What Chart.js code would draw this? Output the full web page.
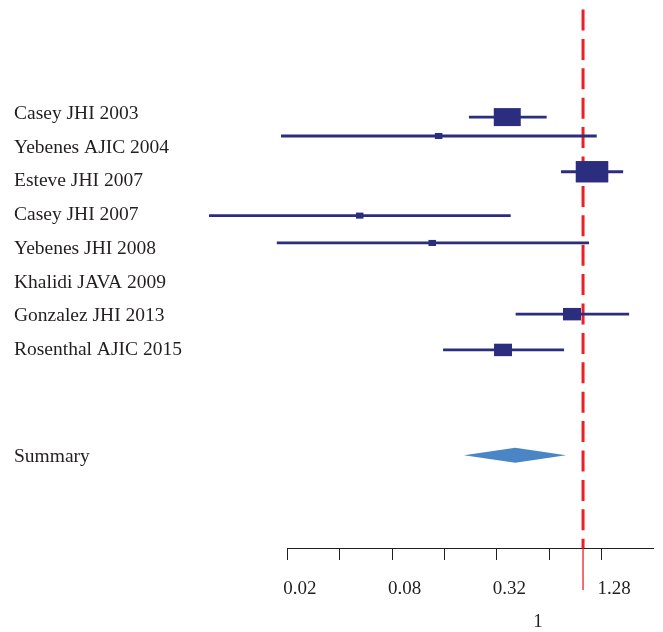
<!DOCTYPE html>
<html>
<head>
<meta charset="utf-8">
<script src="https://cdn.jsdelivr.net/npm/chart.js@4.4.1/dist/chart.umd.min.js"></script>
<style>
    html, body { margin: 0; padding: 0; background: #fff; }
    #wrap { width: 663px; height: 632px; }
</style>
</head>
<body>
<div id="wrap"><canvas id="forest" width="663" height="632"></canvas></div>
<script>
// study rows (top to bottom)
const studies = ["Casey JHI 2003", "Yebenes AJIC 2004", "Esteve JHI 2007", "Casey JHI 2007",
    "Yebenes JHI 2008", "Khalidi JAVA 2009", "Gonzalez JHI 2013", "Rosenthal AJIC 2015"];
const estimates = [0.367, 0.148, 1.126, 0.0521, 0.136, null, 0.864, 0.347];
const lower = [0.221, 0.0184, 0.747, 0.0071, 0.0174, null, 0.41, 0.157];
const upper = [0.618, 1.198, 1.70, 0.384, 1.082, null, 1.84, 0.778];
const weights = [28.2, 2.2, 41.1, 2.2, 2.2, null, 12.5, 12.5];
const labelRows = [1, 2, 3, 4, 5, 6, 7, 8];
const markRows = [1.16, 1.72, 2.78, 4.08, 4.89, 6, 7.0, 8.06];

// pooled estimate
const summaryLabel = "Summary";
const summaryEst = 0.408;
const summaryLower = 0.207;
const summaryUpper = 0.798;
const summaryRow = 11.18;

// x axis
const xTicks = [0.02, 0.04, 0.08, 0.16, 0.32, 0.64, 1.28];
const xTickLabels = ["0.02", "", "0.08", "", "0.32", "", "1.28"];
const axisFrom = 0.02;
const axisTo = 2.56;
const refValue = 1;
const refLabel = "1";

const navy = "#2b2d7e";
const red = "#ed1f26";
const diamondBlue = "#4a85c6";
const textColor = "#231f20";
const fontFamily = "'Liberation Serif', 'Times New Roman', serif";

const whiskerSets = studies
    .map((name, i) => ({
        label: name,
        data: estimates[i] == null ? [] : [
            { x: lower[i], y: markRows[i] },
            { x: upper[i], y: markRows[i] },
        ],
        showLine: true,
        borderColor: navy,
        borderWidth: 2.8,
        pointRadius: 0,
    }));

const forestMarks = {
    id: "forestMarks",
    beforeDatasetsDraw(chart) {
        const { ctx, chartArea } = chart;
        const px = chart.scales.x.getPixelForValue(refValue);
        ctx.save();
        ctx.strokeStyle = red;
        ctx.lineWidth = 3;
        ctx.setLineDash([21, 8.4]);
        ctx.beginPath();
        ctx.moveTo(px, chartArea.top + 9.5);
        ctx.lineTo(px, chartArea.bottom);
        ctx.stroke();
        ctx.restore();
    },
    afterDatasetsDraw(chart) {
        const { ctx } = chart;
        const { x, y } = chart.scales;
        ctx.save();
        ctx.fillStyle = navy;
        estimates.forEach((est, i) => {
            if (est == null) return;
            const w = 5.08 * Math.sqrt(weights[i]);
            const h = 0.615 * w + 1.4;
            const cx = x.getPixelForValue(est);
            const cy = y.getPixelForValue(markRows[i]);
            ctx.fillRect(cx - w / 2, cy - h / 2, w, h);
        });

        // summary diamond
        const cy = y.getPixelForValue(summaryRow);
        ctx.fillStyle = diamondBlue;
        ctx.beginPath();
        ctx.moveTo(x.getPixelForValue(summaryLower), cy);
        ctx.lineTo(x.getPixelForValue(summaryEst), cy - 7.5);
        ctx.lineTo(x.getPixelForValue(summaryUpper), cy);
        ctx.lineTo(x.getPixelForValue(summaryEst), cy + 7.5);
        ctx.closePath();
        ctx.fill();
        ctx.restore();
    },
    afterDraw(chart) {
        const { ctx, chartArea } = chart;
        const x = chart.scales.x;
        const yAxis = Math.round(chartArea.bottom) + 0.5;
        ctx.save();
        // axis line only over the labelled range
        ctx.strokeStyle = textColor;
        ctx.lineWidth = 1;
        ctx.beginPath();
        ctx.moveTo(x.getPixelForValue(axisFrom), yAxis);
        ctx.lineTo(x.getPixelForValue(axisTo), yAxis);
        ctx.stroke();

        // thin reference line below the axis
        const px = x.getPixelForValue(refValue);
        ctx.strokeStyle = red;
        ctx.lineWidth = 1.3;
        ctx.beginPath();
        ctx.moveTo(px, chartArea.bottom);
        ctx.lineTo(px, chartArea.bottom + 42);
        ctx.stroke();

        ctx.fillStyle = textColor;
        ctx.font = "19px " + fontFamily;
        ctx.textAlign = "center";
        ctx.textBaseline = "middle";
        ctx.fillText(refLabel, px - 45, chartArea.bottom + 74);
        ctx.restore();
    },
};

new Chart(document.getElementById("forest"), {
    type: "scatter",
    data: { datasets: whiskerSets },
    options: {
        responsive: false,
        animation: false,
        events: [],
        layout: { padding: { left: 14, right: 0, top: 0, bottom: 0 } },
        plugins: {
            legend: { display: false },
            tooltip: { enabled: false },
        },
        scales: {
            x: {
                type: "logarithmic",
                min: 0.0063,
                max: 2.88,
                afterBuildTicks: (scale) => {
                    scale.ticks = xTicks.map((v) => ({ value: v }));
                },
                afterFit: (scale) => {
                    scale.height = 84;
                    scale.paddingLeft = 0;
                    scale.paddingRight = 0;
                },
                ticks: {
                    autoSkip: false,
                    maxRotation: 0,
                    labelOffset: 12.5,
                    padding: 17.5,
                    color: textColor,
                    font: { family: fontFamily, size: 19 },
                    callback: (value, index) => xTickLabels[index],
                },
                grid: {
                    drawOnChartArea: false,
                    drawTicks: true,
                    tickLength: 12,
                    color: textColor,
                    lineWidth: 1,
                },
                border: { display: false },
            },
            y: {
                type: "linear",
                reverse: true,
                min: -2.31,
                max: 13.93,
                afterBuildTicks: (scale) => {
                    scale.ticks = [...labelRows, summaryRow].map((v) => ({ value: v }));
                },
                afterFit: (scale) => {
                    scale.width = 186;
                    scale.paddingTop = 0;
                    scale.paddingBottom = 0;
                },
                ticks: {
                    autoSkip: false,
                    crossAlign: "far",
                    padding: 0,
                    labelOffset: 2,
                    color: textColor,
                    font: { family: fontFamily, size: 19.5 },
                    callback: (value, index) => [...studies, summaryLabel][index],
                },
                grid: { display: false },
                border: { display: false },
            },
        },
    },
    plugins: [forestMarks],
});
</script>
</body>
</html>
